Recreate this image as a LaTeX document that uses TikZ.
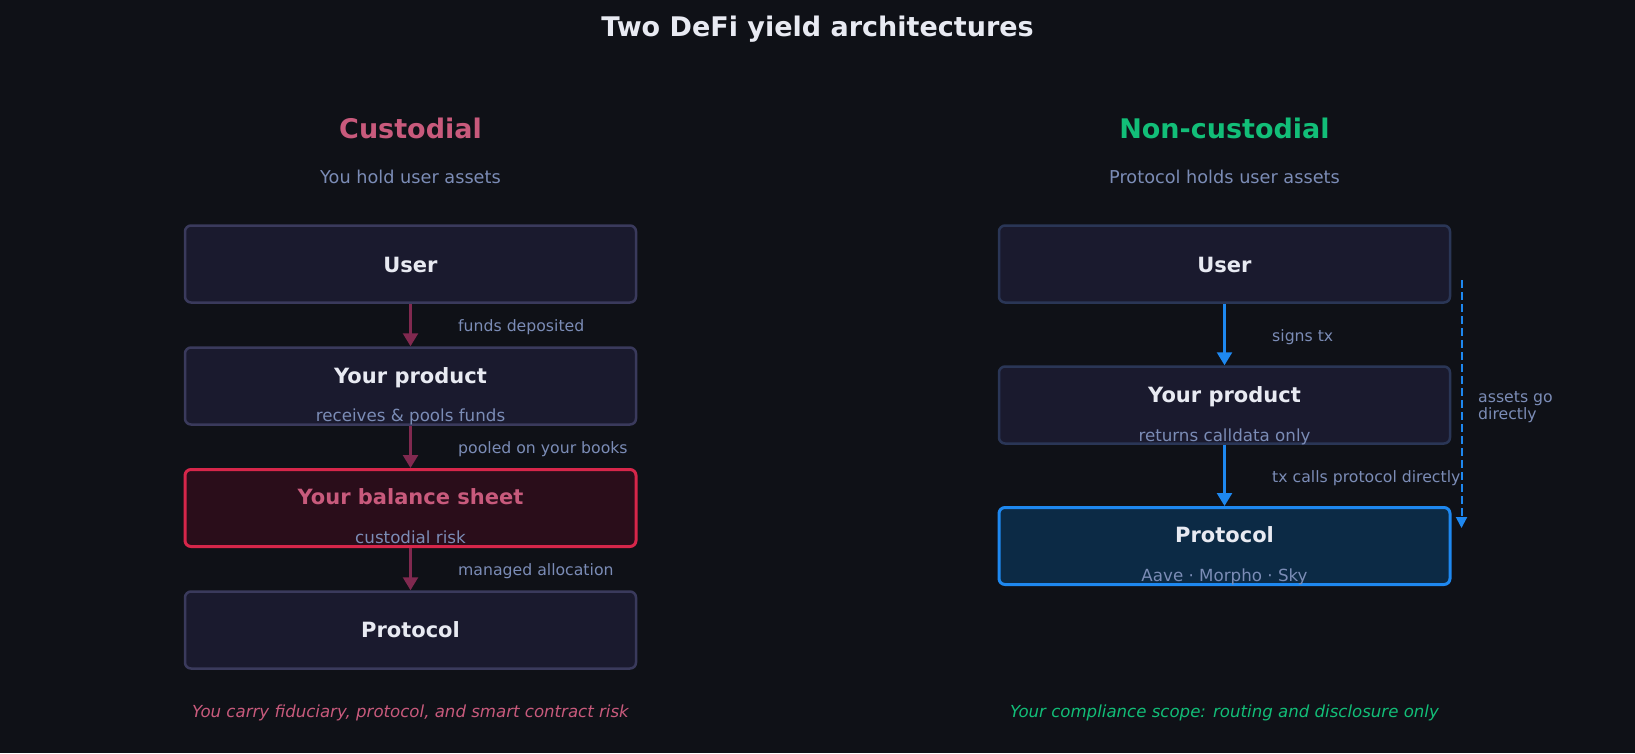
\documentclass[tikz,border=0pt]{standalone}
\usepackage{fontspec}
\setmainfont{DejaVu Sans}
\usetikzlibrary{arrows.meta}
\definecolor{bg}{HTML}{0F1117}
\definecolor{boxfill}{HTML}{1A1A2E}
\definecolor{lborder}{HTML}{3A3A5C}
\definecolor{rborder}{HTML}{2A3656}
\definecolor{txt}{HTML}{E8EAF2}
\definecolor{pinkc}{HTML}{C85A7C}
\definecolor{greenc}{HTML}{12BE78}
\definecolor{subc}{HTML}{7B8CB6}
\definecolor{maroon}{HTML}{80294F}
\definecolor{redb}{HTML}{D6264A}
\definecolor{redfill}{HTML}{2A0D1A}
\definecolor{bluec}{HTML}{1E88F0}
\definecolor{bluefill}{HTML}{0C2A45}
\begin{document}
\begin{tikzpicture}[x=1pt,y=-1pt,
  txtnode/.style={inner sep=0pt, anchor=base},
  bigtitle/.style={txtnode, text=txt, font=\fontsize{27}{31}\selectfont\bfseries},
  sectitle/.style={txtnode, font=\fontsize{27}{31}\selectfont\bfseries},
  secsub/.style={txtnode, text=subc, font=\fontsize{17.7}{21}\selectfont},
  boxtitle/.style={txtnode, text=txt, font=\fontsize{21}{25}\selectfont\bfseries},
  boxsub/.style={txtnode, text=subc, font=\fontsize{16.7}{20}\selectfont},
  lbl/.style={txtnode, anchor=base west, text=subc, font=\fontsize{15.7}{18}\selectfont},
  foot/.style={txtnode, font=\fontsize{16.6}{20}\selectfont\itshape},
  box/.style={draw, rounded corners=6pt, minimum width=451pt, minimum height=77pt, inner sep=0pt},
  lbox/.style={box, draw=lborder, fill=boxfill, line width=2.5pt},
  rbox/.style={box, draw=rborder, fill=boxfill, line width=2.5pt},
  marrow/.style={draw=maroon, line width=2.5pt, -{Triangle[width=15pt,length=13pt]}},
  barrow/.style={draw=bluec, line width=2.5pt, -{Triangle[width=15pt,length=13pt]}},
  darrow/.style={draw=bluec, line width=2pt, dash pattern=on 8pt off 4pt, -{Triangle[width=11pt,length=11pt]}}
]
\fill[bg] (0,0) rectangle (1635,753);
\useasboundingbox (0,0) rectangle (1635,753);

\node[bigtitle] (title) at (817.5,36) {Two DeFi yield architectures};

% ---------- Left: custodial ----------
\node[sectitle, text=pinkc] (ctitle) at (410.5,138) {Custodial};
\node[secsub] (csub) at (410.5,183) {You hold user assets};

\node[lbox] (L1) at (410.5,264) {};
\node[lbox] (L2) at (410.5,386) {};
\node[box, draw=redb, fill=redfill, line width=3pt] (L3) at (410.5,508) {};
\node[lbox] (L4) at (410.5,630) {};

\node[boxtitle] (L1t) at (410.5,272.5) {User};
\node[boxtitle] (L2t) at (410.5,383) {Your product};
\node[boxsub] (L2s) at (410.5,421) {receives \& pools funds};
\node[boxtitle, text=pinkc] (L3t) at (410.5,504.5) {Your balance sheet};
\node[boxsub] (L3s) at (410.5,543) {custodial risk};
\node[boxtitle] (L4t) at (410.5,637) {Protocol};

\draw[marrow] (L1.south) -- (L2.north);
\draw[marrow] (L2.south) -- (L3.north);
\draw[marrow] (L3.south) -- (L4.north);

\node[lbl] (la1) at (458,331.5) {funds deposited};
\node[lbl] (la2) at (458,453) {pooled on your books};
\node[lbl] (la3) at (458,575.5) {managed allocation};

\node[foot, text=pinkc] (cfoot) at (410.5,717) {You carry fiduciary, protocol, and smart contract risk};

% ---------- Right: non-custodial ----------
\node[sectitle, text=greenc] (ntitle) at (1224.5,138) {Non-custodial};
\node[secsub] (nsub) at (1224.5,183) {Protocol holds user assets};

\node[rbox] (R1) at (1224.5,264) {};
\node[rbox] (R2) at (1224.5,405) {};
\node[box, draw=bluec, fill=bluefill, line width=3pt] (R3) at (1224.5,546) {};

\node[boxtitle] (R1t) at (1224.5,272.5) {User};
\node[boxtitle] (R2t) at (1224.5,402) {Your product};
\node[boxsub] (R2s) at (1224.5,441.5) {returns calldata only};
\node[boxtitle] (R3t) at (1224.5,542.5) {Protocol};
\node[boxsub] (R3s) at (1224.5,581.5) {Aave · Morpho · Sky};

\draw[barrow] (R1.south) -- (R2.north);
\draw[barrow] (R2.south) -- (R3.north);

\node[lbl] (ra1) at (1272,341.5) {signs tx};
\node[lbl] (ra2) at (1272,482) {tx calls protocol directly};

\coordinate (dtop) at (1461.5,280);
\coordinate (dbot) at (1461.5,528);
\draw[darrow] (dtop) -- (dbot);
\node[lbl] (ra3) at (1478,402) {assets go};
\node[lbl] (ra4) at (1478,419.5) {directly};

\node[foot, text=greenc] (nfoot) at (1224.5,717) {Your compliance scope: routing and disclosure only};
\end{tikzpicture}
\end{document}
